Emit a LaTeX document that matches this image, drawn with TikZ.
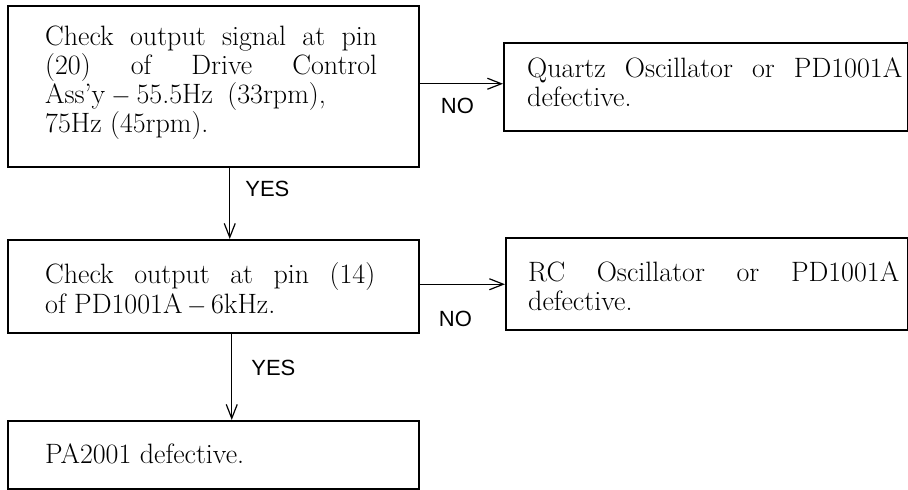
\documentclass[tikz,border=0pt]{standalone}
\usepackage{fontspec}
\newfontfamily\labfont{Liberation Sans}
\usetikzlibrary{arrows.meta}
\begin{document}
\begin{tikzpicture}[x=1pt,y=-1pt,
  box/.style={draw, line width=1.5pt, rectangle, inner sep=0pt, anchor=north west},
  txt/.style={anchor=base west, inner sep=0pt, align=justify,
    font=\fontsize{28}{29}\selectfont},
  arr/.style={line width=1.2pt, -{Straight Barb[length=14pt,width=11pt,line width=1.2pt]}},
  lab/.style={font=\labfont\fontsize{22}{24}\selectfont, inner sep=0pt, anchor=base west}]
\fill[white] (0,0) rectangle (908,490);
\useasboundingbox (0,0) rectangle (908,490);
% boxes
\node[box, minimum width=411pt, minimum height=161pt] (b1) at (7,5) {};
\node[box, minimum width=404pt, minimum height=88pt] (q) at (503,42) {};
\node[box, minimum width=411pt, minimum height=93pt] (b3) at (7,239) {};
\node[box, minimum width=402pt, minimum height=92pt] (rc) at (505,237) {};
\node[box, minimum width=411pt, minimum height=68pt] (b5) at (7,420) {};
% texts
\node[txt, text width=332pt] (t1) at (45,45)
  {Check output signal at pin\linebreak (20) of Drive Control\linebreak Ass'y\hspace{6pt}$-$\hspace{6pt}55.5Hz\hspace{6pt} (33rpm),\newline 75Hz (45rpm).};
\node[txt, text width=375pt] (tq) at (527,77)
  {Quartz Oscillator or PD1001A\linebreak defective.};
\node[txt, text width=330pt, font=\fontsize{28}{30}\selectfont] (t3) at (45,283)
  {Check output at pin (14)\linebreak of PD1001A\,$-$\,6kHz.};
\node[txt, text width=371pt] (trc) at (528,281)
  {RC Oscillator or PD1001A\linebreak defective.};
\node[txt, text width=330pt] (t5) at (45,463) {PA2001 defective.};
% connectors
\draw[arr] ([yshift=3pt]q.west -| b1.east) -- node[lab, pos=0.25, yshift=-30pt] (no1) {NO} ([yshift=3pt]q.west);
\draw[arr] ([yshift=-0.5pt]rc.west -| b3.east) -- node[lab, pos=0.22, yshift=-42pt] (no2) {NO} ([yshift=-0.5pt]rc.west);
\draw[arr] ([xshift=16.5pt]b1.south) -- node[lab, pos=0.41, xshift=15pt] (yes1) {YES} ([xshift=16.5pt]b1.south |- b3.north);
\draw[arr] ([xshift=18.5pt]b3.south) -- node[lab, pos=0.48, xshift=19pt] (yes2) {YES} ([xshift=18.5pt]b3.south |- b5.north);
\end{tikzpicture}
\end{document}
